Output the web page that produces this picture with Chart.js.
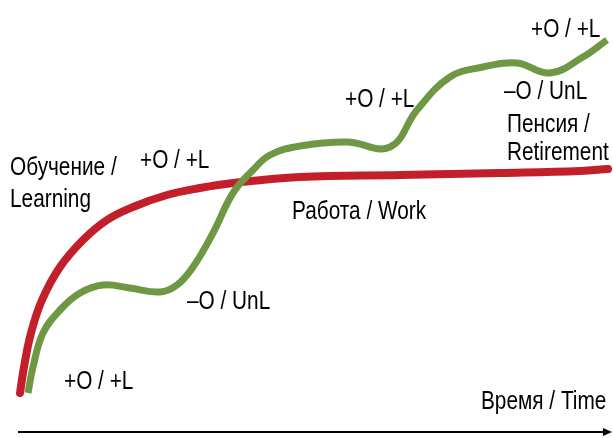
<!DOCTYPE html>
<html>
<head>
<meta charset="utf-8">
<script src="https://cdn.jsdelivr.net/npm/chart.js@4.4.1/dist/chart.umd.min.js"></script>
<style>
  html, body { margin: 0; padding: 0; background: #fff; }
  #wrap { width: 613px; height: 438px; }
</style>
</head>
<body>
<div id="wrap"><canvas id="curveChart" width="613" height="438"></canvas></div>
<script>
// --- Dados (eixo do tempo -> nível) ---
const learningX = [20, 24, 31, 42, 60, 83, 107, 133, 167, 200, 233, 300, 400, 500, 580, 608];
const learningY = [393, 367, 333, 300, 267, 240, 220, 207, 195, 188, 183, 177, 175, 173, 171, 169];

const workX = [28, 33, 43, 60, 80, 103, 130, 160, 177, 193, 213, 233, 253, 270, 300, 347, 390, 417, 450, 483, 517, 550, 583, 607];
const workY = [393, 367, 333, 310, 293, 285, 288, 292, 285, 267, 233, 193, 170, 155, 146, 142, 147, 110, 77, 67, 63, 73, 57, 40];

// Etiquetas de texto (anotações)
const noteTexts = ['Обучение /', 'Learning', '+O / +L', '+O / +L', '–O / UnL', 'Работа / Work',
                   '+O / +L', '+O / +L', '–O / UnL', 'Пенсия /', 'Retirement', 'Время / Time'];
const notePosX = [10, 10, 140, 64, 187, 292, 345, 531, 504, 507, 507, 481];
const notePosY = [168, 200, 161, 382, 302, 212, 100, 30, 92, 125, 153, 402];

// Eixo do tempo (seta)
const axisStartX = 18;
const axisEndX = 612;
const axisLevel = 432;

const colors = {
    learning: '#c21f2b',
    work: '#6f9845',
    text: '#000000'
};

const toPoints = (xs, ys) => xs.map((x, i) => ({ x: x, y: ys[i] }));

// Plugin: desenha a seta do tempo e os textos
const notesPlugin = {
    id: 'notes',
    afterDraw(chart) {
        const { ctx, scales } = chart;
        const sx = scales.x, sy = scales.y;
        ctx.save();
        // seta
        const x0 = sx.getPixelForValue(axisStartX);
        const x1 = sx.getPixelForValue(axisEndX);
        const y = sy.getPixelForValue(axisLevel);
        ctx.strokeStyle = '#000';
        ctx.fillStyle = '#000';
        ctx.lineWidth = 2;
        ctx.beginPath();
        ctx.moveTo(x0, y);
        ctx.lineTo(x1 - 6, y);
        ctx.stroke();
        ctx.beginPath();
        ctx.moveTo(x1, y);
        ctx.lineTo(x1 - 9, y - 4);
        ctx.lineTo(x1 - 9, y + 4);
        ctx.closePath();
        ctx.fill();
        // textos (fonte estreita simulada com escala horizontal)
        const squeeze = 0.8;
        ctx.font = '26px "Liberation Sans", Arial, sans-serif';
        ctx.fillStyle = colors.text;
        ctx.textAlign = 'left';
        ctx.textBaseline = 'middle';
        noteTexts.forEach((t, i) => {
            const px = sx.getPixelForValue(notePosX[i]);
            const py = sy.getPixelForValue(notePosY[i]);
            ctx.save();
            ctx.translate(px, py);
            ctx.scale(squeeze, 1);
            ctx.fillText(t, 0, 0);
            ctx.restore();
        });
        ctx.restore();
    }
};

new Chart(document.getElementById('curveChart'), {
    type: 'scatter',
    data: {
        datasets: [
            {
                label: 'Обучение / Learning',
                data: toPoints(learningX, learningY),
                showLine: true,
                borderColor: colors.learning,
                borderWidth: 8,
                borderCapStyle: 'round',
                tension: 0.4,
                pointRadius: 0,
                order: 2
            },
            {
                label: 'Работа / Work',
                data: toPoints(workX, workY),
                showLine: true,
                borderColor: colors.work,
                borderWidth: 7,
                borderCapStyle: 'butt',
                tension: 0.4,
                pointRadius: 0,
                order: 1
            }
        ]
    },
    options: {
        responsive: false,
        animation: false,
        layout: { padding: 0 },
        scales: {
            x: { type: 'linear', min: 0, max: 613, display: false },
            y: { type: 'linear', min: 0, max: 438, reverse: true, display: false }
        },
        plugins: {
            legend: { display: false },
            tooltip: { enabled: false }
        }
    },
    plugins: [notesPlugin]
});
</script>
</body>
</html>
